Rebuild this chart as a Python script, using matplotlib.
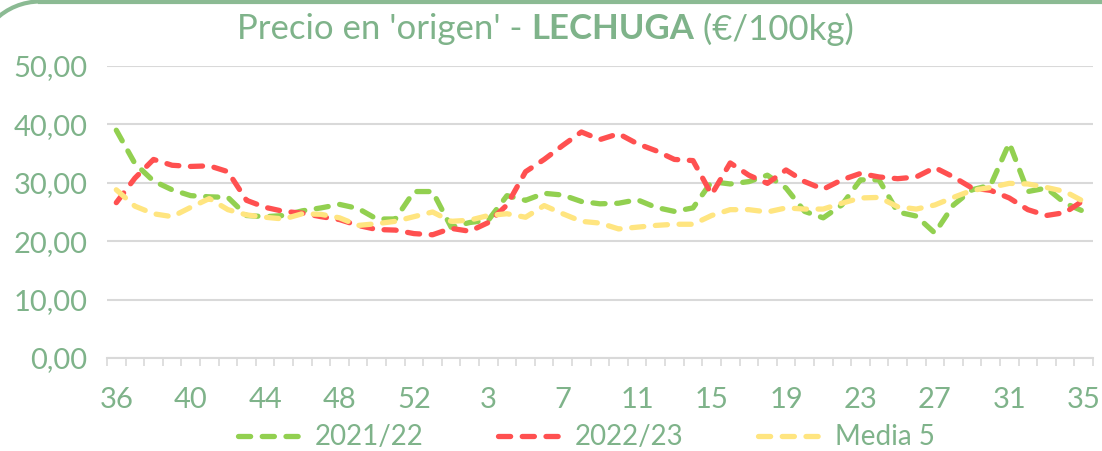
import matplotlib
matplotlib.use("Agg")
import matplotlib.pyplot as plt
from matplotlib.patches import Arc
from matplotlib.lines import Line2D
from matplotlib.transforms import IdentityTransform
from matplotlib.ticker import FuncFormatter, FixedLocator

# Semanas de campaña (36..53, 1..35)
weeks = list(range(36, 54)) + list(range(1, 36))

s2122 = [39.0, 33.3, 30.3, 28.8, 27.8, 27.6, 27.5, 24.4, 24.2, 24.4,
         25.2, 25.7, 26.3, 25.6, 23.8, 23.8, 28.5, 28.5, 22.4, 23.2,
         23.6, 27.8, 27.0, 28.2, 27.9, 26.8, 26.4, 26.5, 27.1, 25.8,
         25.1, 25.7, 30.2, 29.8, 30.2, 31.3, 29.1, 25.1, 24.0, 26.2,
         30.5, 30.5, 25.0, 24.3, 21.4, 26.2, 28.8, 29.6, 36.8, 28.5,
         29.1, 26.5, 25.1]

s2223 = [26.6, 30.8, 34.0, 33.0, 32.8, 32.9, 31.9, 27.0, 25.8, 25.1,
         24.8, 24.2, 23.7, 22.7, 22.0, 21.9, 21.3, 21.1, 22.2, 21.7,
         23.2, 26.2, 31.9, 34.0, 36.4, 38.7, 37.4, 38.4, 36.7, 35.5,
         34.0, 33.8, 28.0, 33.4, 31.3, 29.9, 32.2, 30.2, 28.9, 30.5,
         31.6, 31.0, 30.7, 31.0, 32.6, 31.0, 29.1, 28.7, 27.4, 25.4,
         24.4, 24.9, 27.0]

media5 = [28.8, 26.0, 24.7, 24.2, 25.8, 27.3, 25.4, 24.5, 24.1, 23.8,
          24.7, 24.6, 24.0, 22.7, 23.0, 23.4, 24.2, 25.0, 23.4, 23.6,
          24.4, 24.7, 24.1, 26.1, 24.7, 23.4, 23.1, 22.1, 22.4, 22.7,
          22.9, 22.9, 24.4, 25.4, 25.4, 25.0, 25.7, 25.5, 25.5, 26.5,
          27.4, 27.5, 25.9, 25.5, 26.2, 27.5, 28.7, 29.2, 29.9, 29.8,
          29.2, 28.5, 26.8]

series_names = ["2021/22", "2022/23", "Media 5"]
colors = ["#92D050", "#FF5050", "#FFE580"]
text_color = "#7FB38A"
grid_color = "#D9D9D9"
frame_color = "#8BBA93"

plt.rcParams["font.family"] = ["Lato", "DejaVu Sans"]

fig = plt.figure(figsize=(11.02, 4.51), dpi=100)
ax = fig.add_axes([0.0971, 0.2062, 0.8947, 0.6475])

x = list(range(len(weeks)))
for vals, name, col in zip([s2122, s2223, media5], series_names, colors):
    ax.plot(x, vals, color=col, lw=3.8, linestyle=(0, (2.3, 2.2)),
            dash_capstyle="round", solid_capstyle="round", label=name, zorder=3)

ax.set_xlim(-0.5, len(weeks) - 0.5)
ax.set_ylim(0, 50)
ax.set_yticks([0, 10, 20, 30, 40, 50])
ax.yaxis.set_major_formatter(FuncFormatter(lambda v, p: f"{v:.2f}".replace(".", ",")))
ax.grid(axis="y", color=grid_color, lw=1.5, zorder=0)

major = list(range(0, len(weeks), 4))
ax.xaxis.set_major_locator(FixedLocator(major))
ax.set_xticklabels([str(weeks[i]) for i in major])
ax.xaxis.set_minor_locator(FixedLocator([i - 0.5 for i in range(len(weeks) + 1)]))
ax.tick_params(axis="x", which="major", length=0, pad=21, labelsize=21, labelcolor=text_color)
ax.tick_params(axis="x", which="minor", length=6, width=1.2, color=grid_color, direction="out")
ax.tick_params(axis="y", length=0, pad=14, labelsize=21, labelcolor=text_color)

for sp in ["top", "right", "left"]:
    ax.spines[sp].set_visible(False)
ax.spines["bottom"].set_color(grid_color)
ax.spines["bottom"].set_linewidth(1.5)

# título en tres trozos (parte en negrita)
fig.canvas.draw()
renderer = fig.canvas.get_renderer()
parts = [("Precio en 'origen' - ", "normal"), ("LECHUGA", "bold"), (" (€/100kg)", "normal")]
xpos = 237
for txt, weight in parts:
    t = fig.text(xpos / 1102, 0.935, txt, ha="left", va="center", fontsize=25,
                 color=text_color, fontweight=weight)
    bb = t.get_window_extent(renderer)
    xpos = bb.x1

leg = fig.legend(loc="center", bbox_to_anchor=(0.532, 0.03), ncol=3, frameon=False,
                 fontsize=20, labelcolor=text_color, handlelength=2.3,
                 columnspacing=2.7, handletextpad=0.45)

# marco redondeado (solo se ve la esquina superior izquierda)
H = 451
r = 64
corner = Arc((40, H - 1.5 - r), 2 * r, 2 * r, theta1=90, theta2=180,
             transform=IdentityTransform(), color=frame_color, lw=3.0)
top = Line2D([40, 1110], [H - 1.5, H - 1.5], transform=IdentityTransform(),
             color=frame_color, lw=3.0)
fig.patches.append(corner)
fig.lines.append(top)

fig.savefig("out.png", dpi=100)
